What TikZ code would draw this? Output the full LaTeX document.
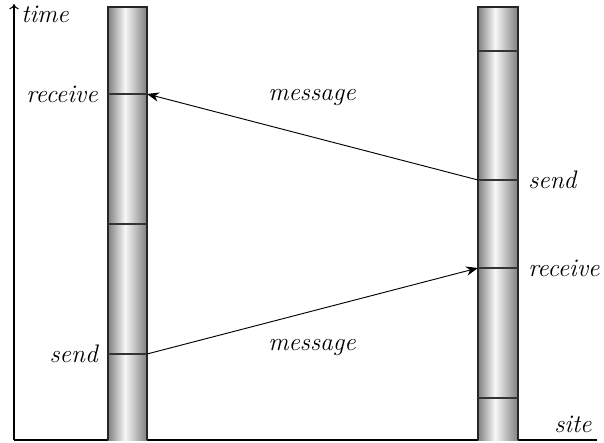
\documentclass[tikz,border=0pt]{standalone}
\usetikzlibrary{arrows.meta}
\begin{document}
\begin{tikzpicture}[x=0.75pt,y=-0.75pt,
  lbl/.style={font=\fontsize{19}{22}\selectfont\itshape, inner sep=0pt},
  edge/.style={line width=0.9pt, black!85},
  msg/.style={line width=0.7pt, -{Stealth[length=9pt,width=7pt]}},
  tick/.style={line width=1.1pt, black!80}]
\useasboundingbox (0,0) rectangle (604,443);
% axes
\coordinate (origin) at (14,440);
\coordinate (tend) at (14,4);
\coordinate (send) at (597,440);
\draw[line width=0.8pt, -{To[length=4pt,width=7pt]}] (origin) -- (tend);
\draw[line width=0.8pt] (origin) -- (send);
% columns
\newcommand{\column}[3]{%
  \shade[left color=black!50, right color=black!3] (#1,7) rectangle (#2,440);
  \shade[left color=black!3, right color=black!50] (#2,7) rectangle (#3,440);
  \draw[edge] (#1,440) -- (#1,7) -- (#3,7) -- (#3,440);}
\column{108}{125}{147}
\column{478}{495}{518}
% event ticks left
\draw[tick] (108,94) -- (147,94);
\draw[tick] (108,224) -- (147,224);
\draw[tick] (108,354) -- (147,354);
% event ticks right
\draw[tick] (478,51) -- (518,51);
\draw[tick] (478,180) -- (518,180);
\draw[tick] (478,268) -- (518,268);
\draw[tick] (478,398) -- (518,398);
\coordinate (Lrecv) at (147,94);
\coordinate (Lsend) at (147,354);
\coordinate (Rsend) at (478,180);
\coordinate (Rrecv) at (478,268);
% messages
\draw[msg] (Rsend) -- (Lrecv);
\draw[msg] (Lsend) -- (Rrecv);
% labels
\node[lbl, anchor=west] (ltime) at (21,14) {time};
\node[lbl, anchor=east] (lrecvL) at (98,94) {receive};
\node[lbl, anchor=east] (lsendL) at (98,354) {send};
\node[lbl, anchor=west] (lsendR) at (528,180) {send};
\node[lbl, anchor=west] (lrecvR) at (528,268) {receive};
\node[lbl, anchor=west] (lsite) at (554,424) {site};
\node[lbl] (m1) at (312,97) {message};
\node[lbl] (m2) at (312,347) {message};
\end{tikzpicture}
\end{document}
